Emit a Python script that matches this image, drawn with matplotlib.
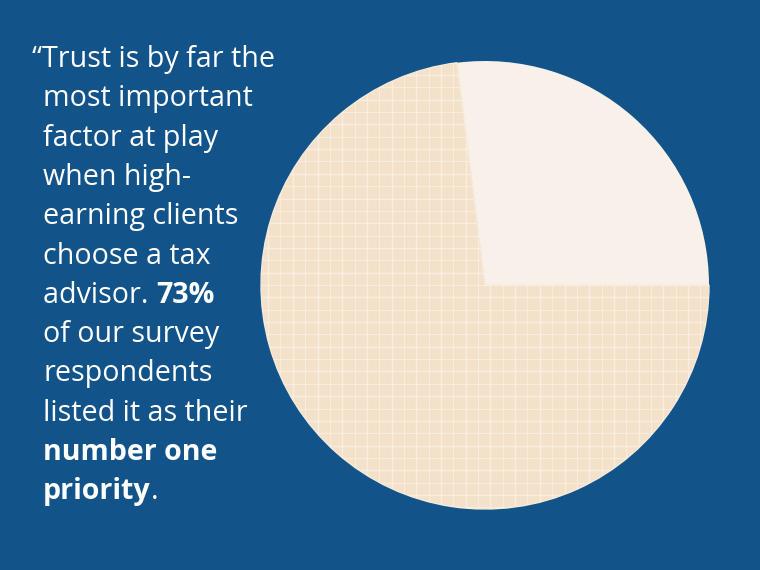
#!/usr/bin/env python3
import numpy as np
import matplotlib
matplotlib.use('Agg')
import matplotlib.pyplot as plt

# data: share of respondents naming trust as number one priority
labels = ['Other', 'Trust is number one priority']
shares = [27, 73]

# quote text, line by line; (text, bold) pieces
quote_lines = [
    [("\u201cTrust is by far the", False)],
    [("most important", False)],
    [("factor at play", False)],
    [("when high-", False)],
    [("earning clients", False)],
    [("choose a tax", False)],
    [("advisor. ", False), ("73%", True)],
    [("of our survey", False)],
    [("respondents", False)],
    [("listed it as their", False)],
    [("number one", True)],
    [("priority", True), (".", False)],
]

bg = '#12538a'
beige = '#f3e1ca'
light = '#f8f1ea'
grid_col = '#fcf4ea'

plt.rcParams['font.family'] = ['Open Sans', 'DejaVu Sans']

fig = plt.figure(figsize=(7.6, 5.7), dpi=100)
fig.patch.set_facecolor(bg)
ax = fig.add_axes([0, 0, 1, 1])
ax.set_facecolor(bg)

# pie
cx, cy, r = 485, 285, 224
wedges, _ = ax.pie(shares, colors=[light, beige], startangle=0, counterclock=True,
                   center=(cx, cy), radius=r, frame=True,
                   wedgeprops=dict(linewidth=0))
ax.set_xlim(0, 760)
ax.set_ylim(0, 570)
ax.set_aspect('equal')
ax.axis('off')

# light outline around the big slice
wedges[1].set_edgecolor('#f6ead9')
wedges[1].set_linewidth(1.0)

# grid pattern inside the big slice
step = 12.35
xs = np.arange(404 - step * 20, 760, step)
ys = np.arange(285 - step * 20, 570, step)
for i, x in enumerate(xs):
    ln, = ax.plot([x, x], [cy - r, cy + r], color=grid_col,
                  lw=1.0 if i % 2 else 0.7, alpha=0.65, zorder=3)
    ln.set_clip_path(wedges[1])
for i, y in enumerate(ys):
    ln, = ax.plot([cx - r, cx + r], [y, y], color=grid_col,
                  lw=1.0 if i % 2 else 0.7, alpha=0.65, zorder=3)
    ln.set_clip_path(wedges[1])

# quote text
base0 = 67
spacing = 39.3
fs = 20.6
for k, parts in enumerate(quote_lines):
    x0 = 32 if k == 0 else 43
    y = 570 - (base0 + k * spacing)
    prev = None
    for txt, bold in parts:
        w = 'bold' if bold else 'normal'
        if prev is None:
            prev = ax.text(x0, y, txt, fontsize=fs, color='white', fontweight=w,
                           ha='left', va='baseline')
        else:
            prev = ax.annotate(txt, xy=(1, 0), xycoords=prev, fontsize=fs,
                               color='white', fontweight=w, ha='left', va='bottom')

fig.savefig('out.png', dpi=100, facecolor=bg)
